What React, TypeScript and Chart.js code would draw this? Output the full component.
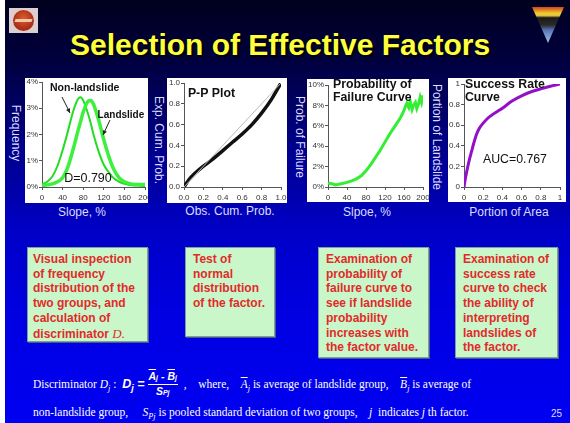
import React, { useEffect, useRef } from 'react';
import { Chart, registerables } from 'chart.js';

Chart.register(...registerables);

const FONT = '"Liberation Sans", Arial, Helvetica, sans-serif';
const SERIF = '"Liberation Serif", "Times New Roman", serif';

// ---- Panel 1: frequency distribution vs slope ----
const slopeX = [0, 10, 20, 30, 40, 50, 60, 70, 75, 80, 90, 95, 100, 110, 120, 130, 140, 150, 160, 170, 180, 190, 200];
const nonLandslideFreq = [0.1, 0.2, 0.4, 0.8, 1.4, 2.1, 2.85, 3.35, 3.42, 3.3, 2.75, 2.4, 2.0, 1.35, 0.85, 0.55, 0.32, 0.2, 0.12, 0.08, 0.06, 0.05, 0.04];
const landslideFreq = [0.05, 0.08, 0.12, 0.2, 0.35, 0.75, 1.4, 2.15, 2.5, 2.85, 3.28, 3.3, 3.15, 2.55, 1.8, 1.15, 0.65, 0.35, 0.2, 0.13, 0.1, 0.1, 0.1];
const slopeTicks = [0, 40, 80, 120, 160, 200];
const slopeTickLabels = ['0', '40', '80', '120', '160', '200'];
const freqTicks = [0, 1, 2, 3, 4];
const freqTickLabels = ['0%', '1%', '2%', '3%', '4%'];

// ---- Panel 2: P-P plot ----
const obsCumProb = [0, 0.05, 0.1, 0.2, 0.3, 0.4, 0.5, 0.6, 0.7, 0.8, 0.9, 0.95, 1];
const expCumProb = [0, 0.07, 0.12, 0.2, 0.27, 0.35, 0.43, 0.51, 0.6, 0.71, 0.84, 0.92, 1];
const refLine = [0, 1];
const cumTicks = [0, 0.2, 0.4, 0.6, 0.8, 1];
const cumTickLabels = ['0.0', '0.2', '0.4', '0.6', '0.8', '1.0'];

// ---- Panel 3: probability of failure curve ----
const failSlope = [0, 5, 10, 15, 20, 25, 30, 40, 50, 60, 70, 80, 90, 100, 110, 120, 130, 140, 150, 155, 160, 163, 166, 170, 173, 177, 180, 184, 187, 191, 194, 197, 200];
const failProb = [0.4, 0.35, 0.3, 0.2, 0.25, 0.3, 0.35, 0.45, 0.6, 0.8, 1.1, 1.6, 2.2, 2.9, 3.6, 4.4, 5.2, 5.9, 6.6, 7.0, 7.5, 7.9, 8.2, 7.8, 8.4, 7.6, 8.0, 8.3, 7.7, 8.2, 8.8, 8.3, 9.0];
const failTicks = [0, 2, 4, 6, 8, 10];
const failTickLabels = ['0%', '2%', '4%', '6%', '8%', '10%'];

// ---- Panel 4: success rate curve ----
const areaPortion = [0, 0.01, 0.02, 0.04, 0.06, 0.08, 0.1, 0.13, 0.16, 0.2, 0.25, 0.3, 0.35, 0.4, 0.5, 0.6, 0.7, 0.8, 0.9, 1];
const landslidePortion = [0, 0.06, 0.11, 0.2, 0.28, 0.35, 0.42, 0.51, 0.57, 0.62, 0.67, 0.705, 0.735, 0.765, 0.835, 0.885, 0.925, 0.953, 0.978, 1];
const rateTicks = [0, 0.2, 0.4, 0.6, 0.8, 1];
const rateTickLabels = ['0', '0.2', '0.4', '0.6', '0.8', '1'];

const pts = (xs: number[], ys: number[]) => xs.map((x, i) => ({ x, y: ys[i] }));

const notesPlugin = {
  id: 'notes',
  afterDatasetsDraw(chart: any, _args: any, opts: any) {
    const { ctx, scales } = chart;
    const xs = scales.x;
    const ys = scales.y;
    ctx.save();
    (opts.arrows || []).forEach((a: any) => {
      const x1 = xs.getPixelForValue(a.from[0]);
      const y1 = ys.getPixelForValue(a.from[1]);
      const x2 = xs.getPixelForValue(a.to[0]);
      const y2 = ys.getPixelForValue(a.to[1]);
      ctx.strokeStyle = '#222';
      ctx.fillStyle = '#222';
      ctx.lineWidth = 1;
      ctx.beginPath();
      ctx.moveTo(x1, y1);
      ctx.lineTo(x2, y2);
      ctx.stroke();
      const ang = Math.atan2(y2 - y1, x2 - x1);
      ctx.beginPath();
      ctx.moveTo(x2, y2);
      ctx.lineTo(x2 - 5 * Math.cos(ang - 0.45), y2 - 5 * Math.sin(ang - 0.45));
      ctx.lineTo(x2 - 5 * Math.cos(ang + 0.45), y2 - 5 * Math.sin(ang + 0.45));
      ctx.closePath();
      ctx.fill();
    });
    (opts.texts || []).forEach((t: any) => {
      ctx.font = t.font;
      ctx.fillStyle = '#111';
      ctx.textAlign = 'left';
      ctx.textBaseline = 'middle';
      ctx.fillText(t.text, xs.getPixelForValue(t.x), ys.getPixelForValue(t.y));
    });
    ctx.restore();
  },
};

function axis(min: number, max: number, values: number[], labels: string[], size: number, isX: boolean) {
  return {
    type: 'linear',
    min,
    max,
    afterBuildTicks: (s: any) => {
      s.ticks = values.map((v) => ({ value: v }));
    },
    ticks: {
      callback: (_v: any, i: number) => labels[i],
      font: { family: FONT, size: 8 },
      color: '#333',
      padding: isX ? 3 : 1,
      maxRotation: 0,
      minRotation: 0,
      autoSkip: false,
    },
    grid: { display: true, drawOnChartArea: false, drawTicks: true, tickLength: 3, color: '#555', lineWidth: 1 },
    border: { display: true, color: '#555', width: 1 },
    afterFit: (s: any) => {
      if (isX) s.height = size;
      else s.width = size;
      s.paddingLeft = 0;
      s.paddingRight = 0;
      s.paddingTop = 0;
      s.paddingBottom = 0;
    },
  };
}

function makeConfig(datasets: any[], xAxis: any, yAxis: any, pad: any, notes: any) {
  return {
    type: 'line',
    data: { datasets },
    options: {
      responsive: false,
      animation: false,
      devicePixelRatio: 1,
      layout: { padding: pad },
      plugins: { legend: { display: false }, tooltip: { enabled: false }, notes },
      elements: { point: { radius: 0 } },
      scales: { x: xAxis, y: yAxis },
    },
    plugins: [notesPlugin],
  };
}

function MiniChart({ left, top, width, height, config }: any) {
  const ref = useRef<HTMLCanvasElement | null>(null);
  useEffect(() => {
    const chart = new Chart(ref.current as any, config);
    return () => chart.destroy();
  }, []);
  return (
    <canvas
      ref={ref}
      width={width}
      height={height}
      style={{ position: 'absolute', left, top, width, height, background: '#fff', display: 'block' }}
    />
  );
}

const freqConfig = makeConfig(
  [
    {
      data: pts(slopeX, landslideFreq),
      borderColor: '#3df03d',
      borderWidth: 3.5,
      cubicInterpolationMode: 'monotone',
    },
    {
      data: pts(slopeX, nonLandslideFreq),
      borderColor: '#22dd22',
      borderWidth: 2,
      cubicInterpolationMode: 'monotone',
    },
  ],
  axis(0, 200, slopeTicks, slopeTickLabels, 16, true),
  axis(0, 4, freqTicks, freqTickLabels, 17, false),
  { left: 0, top: 4, right: 3, bottom: 0 },
  {
    texts: [
      { text: 'Non-landslide', x: 15.5, y: 3.77, font: `bold 10.5px ${FONT}` },
      { text: 'Landslide', x: 108, y: 2.74, font: `bold 10px ${FONT}` },
      { text: 'D=0.790', x: 43, y: 0.34, font: `12.5px ${FONT}` },
    ],
    arrows: [
      { from: [38.8, 3.43], to: [54.4, 2.82] },
      { from: [132, 2.55], to: [118.4, 1.98] },
    ],
  }
);

const ppConfig = makeConfig(
  [
    { data: pts(refLine, refLine), borderColor: '#bbbbbb', borderWidth: 1 },
    { data: pts(obsCumProb, expCumProb), borderColor: '#111111', borderWidth: 3.5, cubicInterpolationMode: 'monotone' },
  ],
  axis(0, 1, cumTicks, cumTickLabels, 16, true),
  axis(0, 1, cumTicks, cumTickLabels, 17, false),
  { left: 0, top: 5, right: 6, bottom: 0 },
  { texts: [{ text: 'P-P Plot', x: 0.04, y: 0.894, font: `bold 12.3px ${FONT}` }] }
);

const failConfig = makeConfig(
  [{ data: pts(failSlope, failProb), borderColor: '#33ee33', borderWidth: 3 }],
  axis(0, 200, slopeTicks, slopeTickLabels, 15, true),
  axis(0, 10, failTicks, failTickLabels, 21, false),
  { left: 0, top: 6, right: 6, bottom: 0 },
  {
    texts: [
      { text: 'Probability of', x: 10.5, y: 10.0, font: `bold 12.3px ${FONT}` },
      { text: 'Failure Curve', x: 10.5, y: 8.73, font: `bold 12.3px ${FONT}` },
    ],
  }
);

const rateConfig = makeConfig(
  [{ data: pts(areaPortion, landslidePortion), borderColor: '#9410c8', borderWidth: 3, cubicInterpolationMode: 'monotone' }],
  axis(0, 1, rateTicks, rateTickLabels, 15, true),
  axis(0, 1, rateTicks, rateTickLabels, 16, false),
  { left: 0, top: 6, right: 6, bottom: 0 },
  {
    texts: [
      { text: 'Success Rate', x: 0.01, y: 0.99, font: `bold 12.3px ${FONT}` },
      { text: 'Curve', x: 0.01, y: 0.864, font: `bold 12.3px ${FONT}` },
      { text: 'AUC=0.767', x: 0.198, y: 0.262, font: `12.3px ${FONT}` },
    ],
  }
);

function AxisTitle({ cx, cy, vertical, children }: any) {
  return (
    <div
      style={{
        position: 'absolute',
        left: cx,
        top: cy,
        transform: `translate(-50%, -50%)${vertical ? ' rotate(90deg)' : ''}`,
        whiteSpace: 'nowrap',
        font: `12px ${FONT}`,
        color: '#dcdcff',
        lineHeight: '14px',
      }}
    >
      {children}
    </div>
  );
}

function NoteBox({ left, top, width, height, padLeft, children }: any) {
  return (
    <div
      style={{
        position: 'absolute',
        left,
        top,
        width,
        height,
        boxSizing: 'border-box',
        background: '#c9f7c9',
        border: '1px solid #7f9f9a',
        boxShadow: '1px 1px 0 #4a5a8a',
        padding: `4px 2px 0 ${padLeft}px`,
        font: `bold 12px ${FONT}`,
        lineHeight: '14.7px',
        color: '#e22a2a',
        whiteSpace: 'nowrap',
      }}
    >
      {children}
    </div>
  );
}

function Sub({ children }: any) {
  return <span style={{ position: 'relative', top: '0.35em', fontSize: '0.72em' }}>{children}</span>;
}

function Line({ top, children }: any) {
  return (
    <div
      style={{
        position: 'absolute',
        left: 33,
        top,
        height: 22,
        display: 'flex',
        alignItems: 'center',
        whiteSpace: 'pre',
        font: `11.5px ${SERIF}`,
        color: '#ffffff',
      }}
    >
      {children}
    </div>
  );
}

export default function App() {
  return (
    <div
      style={{
        position: 'fixed',
        left: 0,
        top: 0,
        width: 570,
        height: 423,
        overflow: 'hidden',
        background:
          'linear-gradient(to bottom, #00001e 0%, #000040 15%, #00008a 35%, #0000c8 55%, #0000e2 75%, #0000f2 100%)',
      }}
    >
      <div style={{ position: 'absolute', left: 0, top: 0, width: 5, height: 423, background: '#ffffff' }} />

      {/* left logo */}
      <div style={{ position: 'absolute', left: 9, top: 8, width: 29, height: 25, background: '#dccfcf' }}>
        <div
          style={{
            position: 'absolute',
            left: 4,
            top: 2,
            width: 21,
            height: 21,
            borderRadius: '50%',
            background: 'radial-gradient(circle at 50% 40%, #d8602a 0%, #b0301a 60%, #8a2010 100%)',
          }}
        />
        <div style={{ position: 'absolute', left: 6, top: 11, width: 17, height: 3, background: '#f0c8a8', transform: 'skewX(-20deg)' }} />
      </div>

      {/* right emblem */}
      <div
        style={{
          position: 'absolute',
          left: 532,
          top: 7,
          width: 32,
          height: 36,
          clipPath: 'polygon(0 0, 100% 0, 50% 100%)',
          background:
            'linear-gradient(to bottom, #d84020 0%, #f0d030 18%, #e0c040 24%, #1a1a1a 30%, #2a2a2a 50%, #5a78b8 65%, #a8c0e8 100%)',
        }}
      />

      {/* title */}
      <div
        style={{
          position: 'absolute',
          left: 70,
          top: 30,
          whiteSpace: 'nowrap',
          font: `bold 30px ${FONT}`,
          lineHeight: '30px',
          color: '#ffff3a',
          textShadow: '2px 2px 2px #000000',
        }}
      >
        Selection of Effective Factors
      </div>

      {/* charts */}
      <MiniChart left={25} top={78} width={123} height={125} config={freqConfig} />
      <MiniChart left={167} top={78} width={120} height={125} config={ppConfig} />
      <MiniChart left={307} top={79} width={122} height={123} config={failConfig} />
      <MiniChart left={448} top={78} width={118} height={124} config={rateConfig} />

      {/* axis titles */}
      <AxisTitle cx={16} cy={133} vertical>Frequency</AxisTitle>
      <AxisTitle cx={82} cy={212}>Slope, %</AxisTitle>
      <AxisTitle cx={159} cy={140} vertical>Exp. Cum. Prob.</AxisTitle>
      <AxisTitle cx={230} cy={211}>Obs. Cum. Prob.</AxisTitle>
      <AxisTitle cx={300} cy={137} vertical>Prob. of Failure</AxisTitle>
      <AxisTitle cx={367} cy={212}>Slpoe, %</AxisTitle>
      <AxisTitle cx={437} cy={137} vertical>Portion of Landslide</AxisTitle>
      <AxisTitle cx={509} cy={212}>Portion of Area</AxisTitle>

      {/* explanation boxes */}
      <NoteBox left={27} top={247} width={121} height={95} padLeft={5}>
        Visual inspection<br />of frequency<br />distribution of the<br />two groups, and<br />calculation of<br />
        discriminator <span style={{ font: `italic 13px ${SERIF}` }}>D.</span>
      </NoteBox>
      <NoteBox left={185} top={247} width={90} height={90} padLeft={7}>
        Test of<br />normal<br />distribution<br />of the factor.
      </NoteBox>
      <NoteBox left={318} top={247} width={111} height={111} padLeft={7}>
        Examination of<br />probability of<br />failure curve to<br />see if landslide<br />probability<br />increases with<br />the factor value.
      </NoteBox>
      <NoteBox left={455} top={247} width={103} height={111} padLeft={7}>
        Examination of<br />success rate<br />curve to check<br />the ability of<br />interpreting<br />landslides of<br />the factor.
      </NoteBox>

      {/* formula line 1 */}
      <Line top={373}>
        <span>Discriminator </span>
        <span>
          <i>D</i>
          <Sub><i>j</i></Sub>
        </span>
        <span> :  </span>
        <span style={{ font: `bold italic 12.5px ${FONT}` }}>
          D<Sub>j</Sub> =
        </span>
        <span
          style={{
            display: 'inline-flex',
            flexDirection: 'column',
            alignItems: 'center',
            font: `bold italic 10.5px ${FONT}`,
            lineHeight: '10px',
            margin: '0 3px',
          }}
        >
          <span style={{ borderBottom: '1px solid #fff', padding: '0 1px 1px' }}>
            <span style={{ textDecoration: 'overline' }}>A</span>
            <span style={{ fontSize: 7 }}>j</span> - <span style={{ textDecoration: 'overline' }}>B</span>
            <span style={{ fontSize: 7 }}>j</span>
          </span>
          <span style={{ paddingTop: 1 }}>
            S<span style={{ fontSize: 7 }}>Pj</span>
          </span>
        </span>
        <span> ,    where,    </span>
        <span>
          <i style={{ textDecoration: 'overline' }}>A</i>
          <Sub><i>j</i></Sub>
        </span>
        <span> is average of landslide group,    </span>
        <span>
          <i style={{ textDecoration: 'overline' }}>B</i>
          <Sub><i>j</i></Sub>
        </span>
        <span> is average of</span>
      </Line>

      {/* formula line 2 */}
      <Line top={401}>
        <span>non-landslide group,     </span>
        <span>
          <i>S</i>
          <Sub><i>Pj</i></Sub>
        </span>
        <span> is pooled standard deviation of two groups,    </span>
        <i>j</i>
        <span>  indicates </span>
        <i>j</i>
        <span> th factor.</span>
      </Line>
      <div style={{ position: 'absolute', left: 551, top: 408, font: `10px ${FONT}`, color: '#dcdcff', lineHeight: '12px' }}>25</div>
    </div>
  );
}
